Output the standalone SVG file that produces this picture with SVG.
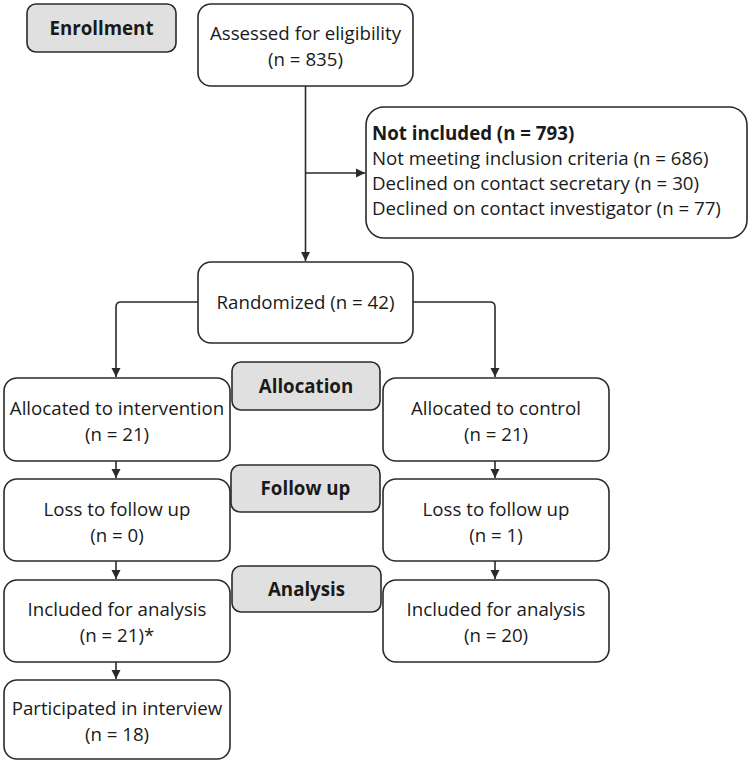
<svg xmlns="http://www.w3.org/2000/svg" width="750" height="764" viewBox="0 0 750 764">
<defs>
<marker id="arr" markerWidth="12" markerHeight="12" refX="10" refY="6" orient="auto" markerUnits="userSpaceOnUse">
<path d="M1,1.5 L10,6 L1,10.5 Z" fill="#2a2a2a"/>
</marker>
<style>
.box{fill:#fff;stroke:#2a2a2a;stroke-width:1.6}
.lab{fill:#e0e0e0;stroke:#2a2a2a;stroke-width:1.6}
.t{font-family:"Open Sans","Noto Sans","Liberation Sans",sans-serif;font-size:18.7px;fill:#1a1a1a}
.c{text-anchor:middle}
.b{font-weight:bold}
.ln{fill:none;stroke:#2a2a2a;stroke-width:1.6}
</style>
</defs>
<rect width="750" height="764" fill="#fff"/>

<g id="enrollment">
<rect class="lab" x="27" y="4" width="149" height="48" rx="9"/>
<text class="t c b" x="101.5" y="35">Enrollment</text>
</g>
<g id="assessed">
<rect class="box" x="198" y="4" width="215" height="82" rx="13"/>
<text class="t c" x="305.5" y="40">Assessed for eligibility</text>
<text class="t c" x="305.5" y="66">(n = 835)</text>
</g>
<g id="not-included">
<rect class="box" x="366" y="107" width="381" height="131" rx="18"/>
<text class="t b" x="372" y="140">Not included (n = 793)</text>
<text class="t" x="372" y="165">Not meeting inclusion criteria (n = 686)</text>
<text class="t" x="372" y="190">Declined on contact secretary (n = 30)</text>
<text class="t" x="372" y="215">Declined on contact investigator (n = 77)</text>
</g>
<g id="randomized">
<rect class="box" x="198" y="262" width="215" height="81" rx="13"/>
<text class="t c" x="305.5" y="309">Randomized (n = 42)</text>
</g>

<g id="allocation">
<rect class="lab" x="232" y="362" width="148" height="48" rx="9"/>
<text class="t c b" x="306" y="393">Allocation</text>
</g>
<g id="alloc-int">
<rect class="box" x="4" y="378" width="226" height="83" rx="13"/>
<text class="t c" x="117" y="415">Allocated to intervention</text>
<text class="t c" x="117" y="441">(n = 21)</text>
</g>
<g id="alloc-ctrl">
<rect class="box" x="383" y="378" width="226" height="83" rx="13"/>
<text class="t c" x="496" y="415">Allocated to control</text>
<text class="t c" x="496" y="441">(n = 21)</text>
</g>

<g id="followup">
<rect class="lab" x="231" y="465" width="149" height="47" rx="9"/>
<text class="t c b" x="305.5" y="495">Follow up</text>
</g>
<g id="loss-int">
<rect class="box" x="4" y="479" width="226" height="82" rx="13"/>
<text class="t c" x="117" y="516">Loss to follow up</text>
<text class="t c" x="117" y="542">(n = 0)</text>
</g>
<g id="loss-ctrl">
<rect class="box" x="383" y="479" width="226" height="82" rx="13"/>
<text class="t c" x="496" y="516">Loss to follow up</text>
<text class="t c" x="496" y="542">(n = 1)</text>
</g>

<g id="analysis">
<rect class="lab" x="232" y="566" width="149" height="46" rx="9"/>
<text class="t c b" x="306.5" y="596">Analysis</text>
</g>
<g id="incl-int">
<rect class="box" x="4" y="580" width="226" height="82" rx="13"/>
<text class="t c" x="117" y="616">Included for analysis</text>
<text class="t c" x="117" y="642">(n = 21)*</text>
</g>
<g id="incl-ctrl">
<rect class="box" x="383" y="580" width="226" height="82" rx="13"/>
<text class="t c" x="496" y="616">Included for analysis</text>
<text class="t c" x="496" y="642">(n = 20)</text>
</g>
<g id="interview">
<rect class="box" x="4" y="680" width="226" height="79" rx="13"/>
<text class="t c" x="117" y="715">Participated in interview</text>
<text class="t c" x="117" y="741">(n = 18)</text>
</g>

<g id="connectors">
<path class="ln" d="M305.5,86 V261" marker-end="url(#arr)"/>
<path class="ln" d="M305.5,173 H365" marker-end="url(#arr)"/>
<path class="ln" d="M198,302 H121 Q116,302 116,307 V377" marker-end="url(#arr)"/>
<path class="ln" d="M413,302 H490 Q495,302 495,307 V377" marker-end="url(#arr)"/>
<path class="ln" d="M116,461 V478" marker-end="url(#arr)"/>
<path class="ln" d="M495,461 V478" marker-end="url(#arr)"/>
<path class="ln" d="M116,561 V579" marker-end="url(#arr)"/>
<path class="ln" d="M495,561 V579" marker-end="url(#arr)"/>
<path class="ln" d="M116,662 V679" marker-end="url(#arr)"/>
</g>
</svg>
